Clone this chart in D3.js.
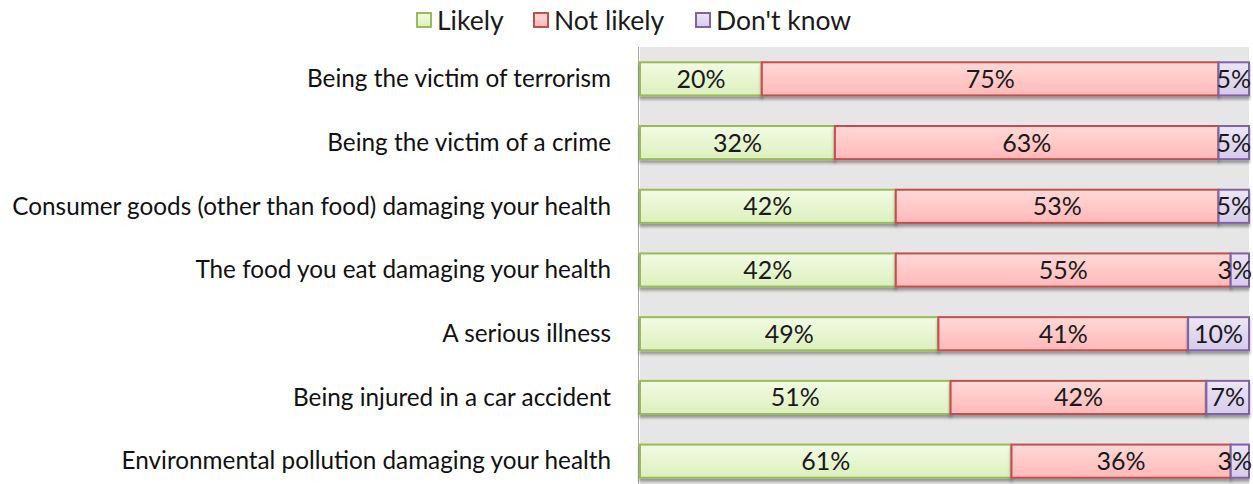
<!DOCTYPE html>
<html><head><meta charset="utf-8">
<script src="https://cdn.jsdelivr.net/npm/d3@7"></script>
<style>body{margin:0;background:#fff;} svg{display:block;}</style>
</head><body>
<svg id="c" width="1253" height="484"></svg>
<script>
const categories = [
  "Being the victim of terrorism",
  "Being the victim of a crime",
  "Consumer goods (other than food) damaging your health",
  "The food you eat damaging your health",
  "A serious illness",
  "Being injured in a car accident",
  "Environmental pollution damaging your health"
];
const likely    = [20, 32, 42, 42, 49, 51, 61];
const notLikely = [75, 63, 53, 55, 41, 42, 36];
const dontKnow  = [5, 5, 5, 3, 10, 7, 3];
const seriesNames = ["Likely", "Not likely", "Don't know"];

(function(){
const FONT = "Lato, 'Open Sans', sans-serif";
const svg = d3.select("#c");
const H = 484;
const pL = 640, pR = 1249, pT = 47, pB = 493;

const defs = svg.append("defs");
const f = defs.append("filter").attr("id","sh").attr("x","-5%").attr("y","-30%").attr("width","110%").attr("height","180%");
f.append("feDropShadow").attr("dx",0).attr("dy",3).attr("stdDeviation",1.6).attr("flood-color","#000").attr("flood-opacity",0.35);

const fills = [["#f2fbe4","#dcf0bd"],["#ffd9d8","#ffb9b8"],["#ece6f6","#d6cbeb"]];
const strokes = ["#9bbb59","#c0504d","#8064a2"];
fills.forEach((c,i)=>{
  const g = defs.append("linearGradient").attr("id","g"+i).attr("x1",0).attr("y1",0).attr("x2",0).attr("y2",1);
  g.append("stop").attr("offset","0%").attr("stop-color",c[0]);
  g.append("stop").attr("offset","100%").attr("stop-color",c[1]);
});

const x = d3.scaleLinear().domain([0,100]).range([pL,pR]);
const y = d3.scaleBand().domain(categories).range([pT,pB]).paddingInner(0.48).paddingOuter(0.24);

svg.append("rect").attr("x",pL).attr("y",pT).attr("width",pR-pL).attr("height",H-pT).attr("fill","#e6e6e6");
svg.append("line").attr("x1",pL-1.5).attr("x2",pL-1.5).attr("y1",pT).attr("y2",H).attr("stroke","#a6a6a6").attr("stroke-width",1);

const data = categories.map((c,i)=>({cat:c, vals:[likely[i],notLikely[i],dontKnow[i]]}));
const stacked = [];
data.forEach(d=>{
  let acc=0;
  d.vals.forEach((v,k)=>{ stacked.push({cat:d.cat,k,x0:acc,x1:acc+v,v}); acc+=v; });
});

svg.append("g").selectAll("rect").data(stacked).join("rect")
  .attr("x",d=>x(d.x0)).attr("y",d=>y(d.cat))
  .attr("width",d=>x(d.x1)-x(d.x0)).attr("height",y.bandwidth())
  .attr("fill",d=>`url(#g${d.k})`).attr("stroke",d=>strokes[d.k]).attr("stroke-width",2)
  .attr("filter","url(#sh)");

svg.append("g").selectAll("text").data(stacked).join("text")
  .attr("x",d=>(x(d.x0)+x(d.x1))/2).attr("y",d=>y(d.cat)+y.bandwidth()/2)
  .attr("dy","0.36em").attr("text-anchor","middle")
  .attr("font-family",FONT).attr("font-size",25).attr("fill","#1a1a1a")
  .text(d=>d.v+"%")
  .each(function(){
    const w = this.getComputedTextLength();
    const cx = +this.getAttribute("x");
    if (cx + w/2 > 1252) this.setAttribute("x", 1252 - w/2);
  });

svg.append("g").selectAll("text").data(categories).join("text")
  .attr("x",611).attr("y",d=>y(d)+y.bandwidth()/2).attr("dy","0.34em")
  .attr("text-anchor","end").attr("font-family",FONT).attr("font-size",24.3).attr("fill","#111")
  .text(d=>d);

const legX = [416, 533, 695];
const lg = svg.append("g");
seriesNames.forEach((n,i)=>{
  lg.append("rect").attr("x",legX[i]+1).attr("y",13).attr("width",14).attr("height",14)
    .attr("fill",`url(#g${i})`).attr("stroke",strokes[i]).attr("stroke-width",2);
  lg.append("text").attr("x",legX[i]+21).attr("y",20).attr("dy","0.36em")
    .attr("font-family",FONT).attr("font-size",26.5).attr("fill","#1a1a1a").text(n);
});
})();
</script>
</body></html>
